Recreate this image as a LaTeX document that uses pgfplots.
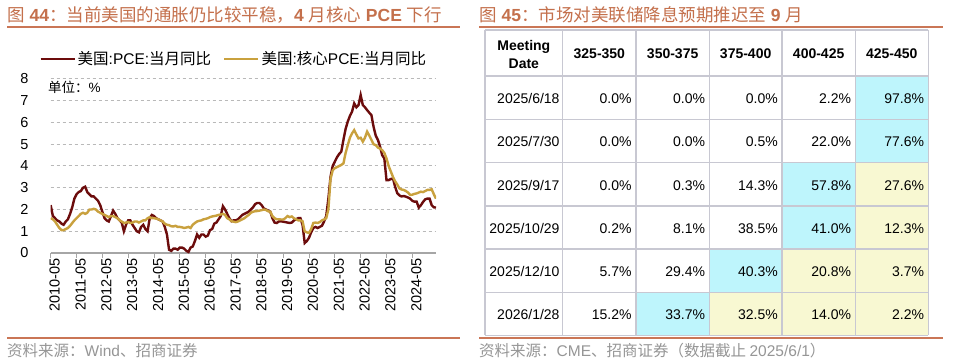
\documentclass[border=0pt]{standalone}
\usepackage{pgfplots}
\pgfplotsset{compat=1.18}
\usepackage{pgfplotstable}
\usepackage{fontspec}
\setmainfont{Liberation Sans}
\newfontfamily\cjk{Noto Sans CJK SC}
\definecolor{titlec}{RGB}{196,112,76}
\definecolor{rulec}{RGB}{202,118,86}
\definecolor{pcec}{RGB}{108,12,12}
\definecolor{corec}{RGB}{201,161,62}
\definecolor{srcc}{RGB}{150,150,150}
\definecolor{cyanc}{RGB}{190,245,252}
\definecolor{yelc}{RGB}{248,248,210}
\definecolor{gridc}{RGB}{200,200,210}

\pgfplotstableread{
m pce core
0 2.2 1.6
1 1.7 1.55
2 1.6 1.45
3 1.5 1.3
4 1.45 1.15
5 1.35 1.05
6 1.3 1.05
7 1.45 1.1
8 1.55 1.15
9 1.8 1.25
10 2.1 1.38
11 2.5 1.5
12 2.7 1.6
13 2.8 1.7
14 2.85 1.8
15 3.0 1.85
16 3.05 1.8
17 2.8 1.85
18 2.7 2.0
19 2.6 2.0
20 2.6 2.03
21 2.5 2.0
22 2.4 1.9
23 2.2 1.85
24 1.9 1.8
25 1.6 1.75
26 1.5 1.7
27 1.45 1.65
28 1.7 1.7
29 1.95 1.7
30 1.8 1.65
31 1.6 1.6
32 1.5 1.5
33 1.4 1.45
34 1.0 1.38
35 1.3 1.4
36 1.5 1.42
37 1.5 1.38
38 1.3 1.4
39 1.15 1.45
40 1.0 1.45
41 0.95 1.4
42 1.2 1.45
43 1.3 1.5
44 1.1 1.5
45 1.0 1.6
46 1.6 1.65
47 1.75 1.6
48 1.7 1.6
49 1.6 1.58
50 1.55 1.55
51 1.5 1.5
52 1.45 1.45
53 1.2 1.35
54 0.85 1.3
55 0.15 1.28
56 0.1 1.23
57 0.2 1.22
58 0.2 1.25
59 0.15 1.2
60 0.25 1.2
61 0.25 1.18
62 0.2 1.15
63 0.1 1.17
64 0.05 1.2
65 0.25 1.15
66 0.3 1.3
67 0.55 1.38
68 0.85 1.45
69 0.7 1.48
70 0.85 1.5
71 0.85 1.55
72 0.75 1.57
73 0.8 1.6
74 1.05 1.65
75 1.1 1.68
76 1.35 1.7
77 1.4 1.72
78 1.55 1.75
79 1.7 1.77
80 2.15 1.8
81 2.0 1.75
82 1.8 1.6
83 1.6 1.55
84 1.46 1.46
85 1.5 1.44
86 1.5 1.42
87 1.55 1.45
88 1.65 1.5
89 1.75 1.55
90 1.8 1.6
91 1.85 1.68
92 1.9 1.75
93 2.0 1.85
94 2.1 1.9
95 2.25 1.92
96 2.3 1.93
97 2.3 1.95
98 2.2 1.97
99 2.05 2.0
100 2.0 1.98
101 1.95 1.92
102 1.9 1.9
103 1.6 1.7
104 1.4 1.6
105 1.38 1.55
106 1.45 1.55
107 1.46 1.54
108 1.44 1.54
109 1.42 1.6
110 1.4 1.7
111 1.38 1.65
112 1.4 1.68
113 1.5 1.6
114 1.55 1.55
115 1.6 1.5
116 1.6 1.5
117 1.3 1.46
118 0.46 1.0
119 0.55 0.95
120 0.7 0.92
121 0.95 1.1
122 1.15 1.38
123 1.2 1.4
124 1.15 1.38
125 1.2 1.42
126 1.25 1.5
127 1.45 1.54
128 1.7 1.6
129 2.5 2.0
130 3.5 3.4
131 4.0 3.8
132 4.2 3.9
133 4.4 3.95
134 4.55 4.0
135 4.66 4.05
136 5.2 4.12
137 5.7 4.6
138 6.04 4.95
139 6.3 5.3
140 6.5 5.5
141 6.88 5.65
142 6.7 5.45
143 6.8 5.27
144 7.26 5.3
145 6.8 5.12
146 6.7 5.3
147 6.57 5.58
148 6.45 5.4
149 6.34 5.2
150 5.8 5.0
151 5.4 4.96
152 5.2 4.85
153 4.9 4.8
154 4.5 4.73
155 4.35 4.6
156 3.35 4.35
157 3.35 4.0
158 3.4 3.75
159 3.43 3.5
160 3.05 3.3
161 2.75 3.15
162 2.65 2.97
163 2.6 2.92
164 2.62 2.9
165 2.59 2.85
166 2.55 2.78
167 2.5 2.67
168 2.4 2.68
169 2.36 2.72
170 2.36 2.74
171 2.09 2.78
172 2.2 2.82
173 2.35 2.8
174 2.47 2.85
175 2.5 2.9
176 2.5 2.9
177 2.2 2.93
178 2.1 2.7
179 2.09 2.5
}\pcedata

\newcommand{\trow}[7]{%
  \node[tc] at (559.7pt,-#1pt) {#2};
  \node[tc] at (631.7pt,-#1pt) {#3\%};
  \node[tc] at (705.3pt,-#1pt) {#4\%};
  \node[tc] at (778pt,-#1pt) {#5\%};
  \node[tc] at (851.3pt,-#1pt) {#6\%};
  \node[tc] at (924.3pt,-#1pt) {#7\%};
}

\begin{document}
\begin{tikzpicture}
\useasboundingbox[fill=white] (0pt,0pt) rectangle (953pt,-363pt);
% ---------- left panel titles ----------
\node[anchor=west, text=titlec, font=\fontsize{17.5}{17.5}\selectfont, inner sep=0pt] at (7pt,-15pt)
  {{\cjk 图}\textbf{ 44}{\cjk ：当前美国的通胀仍比较平稳，}\textbf{4 }{\cjk 月核心}\textbf{ PCE }{\cjk 下行}};
\draw[rulec, line width=2pt] (7pt,-27.5pt) -- (460pt,-27.5pt);
\draw[rulec, line width=2pt] (7pt,-338pt) -- (460pt,-338pt);
\node[anchor=west, text=srcc, font=\fontsize{15.5}{15.5}\selectfont, inner sep=0pt] at (7pt,-351pt)
  {{\cjk 资料来源：}Wind{\cjk 、招商证券}};
% ---------- right panel titles ----------
\node[anchor=west, text=titlec, font=\fontsize{17.5}{17.5}\selectfont, inner sep=0pt] at (479pt,-15pt)
  {{\cjk 图}\textbf{ 45}{\cjk ：市场对美联储降息预期推迟至}\textbf{ 9 }{\cjk 月}};
\draw[rulec, line width=2pt] (479pt,-27.5pt) -- (943pt,-27.5pt);
\draw[rulec, line width=2pt] (479pt,-338pt) -- (943pt,-338pt);
\node[anchor=west, text=srcc, font=\fontsize{15.5}{15.5}\selectfont, inner sep=0pt] at (479pt,-351pt)
  {{\cjk 资料来源：}CME{\cjk 、招商证券（数据截止 }2025/6/1{\cjk ）}};

% ---------- chart ----------
\begin{axis}[
  at={(50.7pt,-253pt)}, anchor=south west,
  scale only axis, width=385.3pt, height=174pt,
  xmin=0, xmax=179, ymin=0, ymax=8,
  enlargelimits=false,
  axis x line=bottom, axis y line=left,
  axis line style={-, draw=gray!70, line width=1.2pt},
  y axis line style={draw=none},
  xtick={0,12,...,168},
  xticklabels={2010-05,2011-05,2012-05,2013-05,2014-05,2015-05,2016-05,2017-05,2018-05,2019-05,2020-05,2021-05,2022-05,2023-05,2024-05},
  ytick={0,1,...,8},
  tick align=outside,
  major tick length=5pt,
  x tick style={draw=gray!70, line width=1pt},
  y tick style={draw=none},
  /pgf/number format/assume math mode=true,
  tick label style={font=\fontsize{14.5}{14.5}\selectfont},
  xticklabel style={rotate=90, anchor=east, inner sep=0pt, yshift=-4pt},
  yticklabel style={anchor=east, inner sep=0pt, xshift=-17pt},
  ymajorgrids,
  major grid style={draw=gray!55, dash pattern=on 3pt off 3pt, line width=1pt},
  legend style={at={(axis description cs:-0.03,1.115)}, anchor=west, draw=none, fill=none,
    inner sep=0pt, font=\fontsize{15.5}{15.5}\selectfont, legend cell align=left,
    /tikz/every even column/.append style={column sep=10pt}},
  legend columns=2,
  legend image code/.code={\draw[#1] (0pt,0pt) -- (34pt,0pt);},
  no markers,
]
\addplot[pcec, line width=2.4pt] table[x=m, y=pce] {\pcedata};
\addlegendentry{{\cjk 美国}:PCE:{\cjk 当月同比}}
\addplot[corec, line width=2.4pt] table[x=m, y=core] {\pcedata};
\addlegendentry{{\cjk 美国}:{\cjk 核心}PCE:{\cjk 当月同比}}
\end{axis}
\node[anchor=west, inner sep=0pt, font=\fontsize{13.5}{13.5}\selectfont] at (48pt,-87pt) {{\cjk 单位：}\%};

% ---------- table ----------
\fill[cyanc] (855.3pt,-76pt) rectangle (928.3pt,-162.3pt);
\fill[cyanc] (782pt,-162.3pt) rectangle (855.3pt,-249pt);
\fill[cyanc] (709.3pt,-249pt) rectangle (782pt,-292.3pt);
\fill[cyanc] (636pt,-292.3pt) rectangle (709.3pt,-335.3pt);
\fill[yelc] (855.3pt,-162.3pt) rectangle (928.3pt,-249pt);
\fill[yelc] (782pt,-249pt) rectangle (928.3pt,-292.3pt);
\fill[yelc] (709.3pt,-292.3pt) rectangle (928.3pt,-335.3pt);
\foreach \yy in {30,76,119.3,162.3,206,249,292.3,335.3}
  \draw[gridc, line width=1.5pt] (485pt,-\yy pt) -- (928.3pt,-\yy pt);
\foreach \xx in {485,562.7,636,709.3,782,855.3,928.3}
  \draw[gridc, line width=1.5pt] (\xx pt,-30pt) -- (\xx pt,-335.3pt);
\tikzset{tc/.style={anchor=east, inner sep=0pt, font=\fontsize{14}{14}\selectfont},
         th/.style={anchor=center, inner sep=0pt, font=\fontsize{14}{18}\selectfont\bfseries, align=center}}
\node[th] at (523.85pt,-54pt) {Meeting\\Date};
\node[th] at (599.35pt,-53.5pt) {325-350};
\node[th] at (672.65pt,-53.5pt) {350-375};
\node[th] at (745.65pt,-53.5pt) {375-400};
\node[th] at (818.65pt,-53.5pt) {400-425};
\node[th] at (891.8pt,-53.5pt) {425-450};
\trow{98.7}{2025/6/18}{0.0}{0.0}{0.0}{2.2}{97.8}
\trow{141.8}{2025/7/30}{0.0}{0.0}{0.5}{22.0}{77.6}
\trow{185.2}{2025/9/17}{0.0}{0.3}{14.3}{57.8}{27.6}
\trow{228.5}{2025/10/29}{0.2}{8.1}{38.5}{41.0}{12.3}
\trow{271.7}{2025/12/10}{5.7}{29.4}{40.3}{20.8}{3.7}
\trow{314.8}{2026/1/28}{15.2}{33.7}{32.5}{14.0}{2.2}
\end{tikzpicture}
\end{document}
